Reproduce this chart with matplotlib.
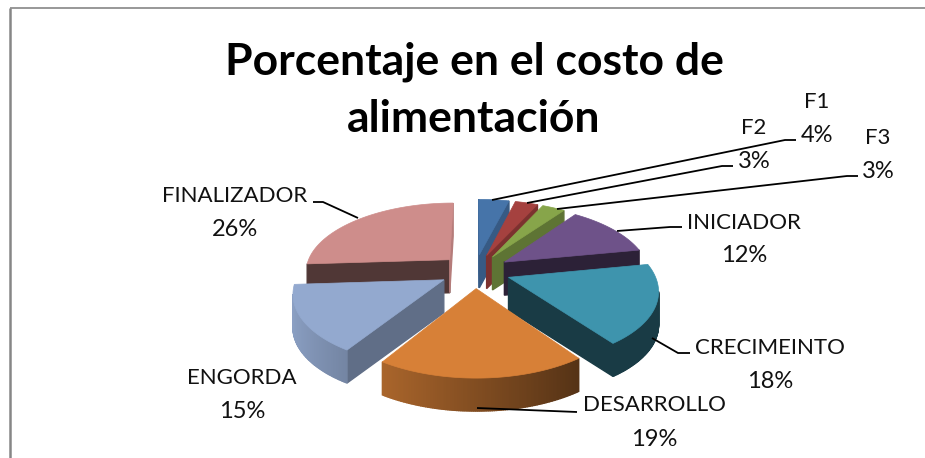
import matplotlib
matplotlib.use("Agg")
import matplotlib.pyplot as plt
import numpy as np

names = ["F1", "F2", "F3", "INICIADOR", "CRECIMEINTO", "DESARROLLO", "ENGORDA", "FINALIZADOR"]
percent = [4, 3, 3, 12, 18, 19, 15, 26]
title_lines = ["Porcentaje en el costo de", "alimentación"]

top_colors = ["#4674A9", "#A5413F", "#87A54A", "#6E5289", "#3E94AD", "#D78037", "#93A9CF", "#CE8D8B"]
side_shade = [0.78, 0.75, 0.70, 0.40, 0.40, 0.40, 0.65, 0.39]

# label centres in pixels, name then percent
name_xy = [(817, 102), (754, 128), (878, 138), (744, 223), (770, 348), (654, 405), (242, 378), (235, 196)]
pct_xy = [(817, 136), (754, 162), (878, 172), (744, 256), (770, 381), (654, 439), (242, 411), (235, 229)]
leaders = [
    [(492, 200), (785, 140), (796, 140)],
    [(527, 203), (722, 166), (733, 166)],
    [(557, 209), (847, 176), (858, 176)],
    [(617, 231), (670, 227), (682, 227)],
    [(652, 338), (678, 353), (690, 353)],
    [(477, 408), (577, 412)],
    [(358, 218), (323, 202), (313, 202)],
]

cx, cy = 475, 271
A, B = 145, 69      # pixels per radius
k = 0.159           # perspective
depth = 33
explode = 0.245


def project(X, Y, z=0):
    s = 1 / (1 + k * np.asarray(Y))
    return cx + A * np.asarray(X) * s, cy - B * np.asarray(Y) * s + z


def shade(color, f):
    return tuple(c * f for c in matplotlib.colors.to_rgb(color))


def quad(ax, x0, y0, x1, y1, color, zo):
    # skip faces turned away from the viewer
    if x1 <= x0:
        return
    ax.fill([x0, x1, x1, x0], [y0, y1, y1 + depth, y0 + depth], color=color, lw=1, zorder=zo)


fig = plt.figure(figsize=(9.25, 4.58), dpi=100)
ax = fig.add_axes([0, 0, 1, 1])
ax.set_xlim(0, 925)
ax.set_ylim(458, 0)
ax.axis("off")

plt.rcParams["font.family"] = "Lato"

edges = np.cumsum([0] + percent) / sum(percent) * 2 * np.pi
mids = (edges[:-1] + edges[1:]) / 2
order = np.argsort(-np.cos(mids))

for rank, i in enumerate(order):
    zo = 2 + rank
    ox, oy = explode * np.sin(mids[i]), explode * np.cos(mids[i])
    t = np.linspace(edges[i], edges[i + 1], int(percent[i] * 6) + 2)
    wx = ox + np.sin(t)
    wy = oy + np.cos(t)
    ax_, ay_ = project(ox, oy)
    px, py = project(wx, wy)

    side = shade(top_colors[i], side_shade[i])
    # radial faces; nearly edge-on ones catch the light
    for x0, y0, x1, y1 in [(px[0], py[0], ax_, ay_), (ax_, ay_, px[-1], py[-1])]:
        quad(ax, x0, y0, x1, y1, shade(top_colors[i], 0.88) if abs(x1 - x0) < 6 else side, zo)
    # rim, drawn in strips so the shading runs across it
    for j in range(len(t) - 1):
        if px[j + 1] < px[j]:
            nx = np.sin((t[j] + t[j + 1]) / 2)
            f = 0.60 - 0.35 * nx
            if percent[i] in (19, 15):
                quad(ax, px[j + 1], py[j + 1], px[j], py[j], shade(top_colors[i], f), zo)
            else:
                quad(ax, px[j + 1], py[j + 1], px[j], py[j], side, zo)
    ax.fill(np.r_[ax_, px], np.r_[ay_, py], color=top_colors[i], lw=0.5, zorder=zo)

for line in leaders:
    ax.plot([p[0] for p in line], [p[1] for p in line], color="black", lw=1.3, zorder=20,
            solid_capstyle="butt")

ax.text(474, 62, title_lines[0], fontsize=32, fontweight="bold", ha="center", va="center", color="black")
ax.text(474, 119, title_lines[1], fontsize=32, fontweight="bold", ha="center", va="center", color="black")

for n, p, nxy, pxy in zip(names, percent, name_xy, pct_xy):
    ax.text(nxy[0], nxy[1], n, fontsize=16, ha="center", va="center", color="#111111")
    ax.text(pxy[0], pxy[1], f"{p}%", fontsize=17, ha="center", va="center", color="#111111")

# chart frame
ax.plot([10, 10], [458, 8], color="#868686", lw=1.8, zorder=1, solid_capstyle="butt")
ax.plot([10, 925], [8, 8], color="#868686", lw=1.2, zorder=1, solid_capstyle="butt")

fig.savefig("out.png", dpi=100)
